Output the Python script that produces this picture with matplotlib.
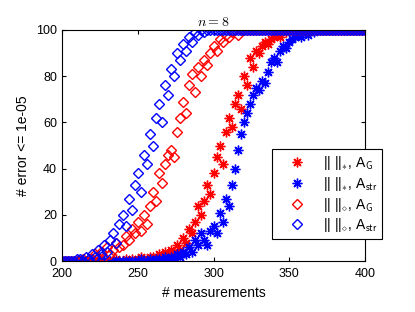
import numpy as np
import matplotlib
matplotlib.use('Agg')
import matplotlib.pyplot as plt

plt.rcParams['font.family'] = ['Liberation Sans', 'DejaVu Sans']
plt.rcParams['mathtext.fontset'] = 'cm'

# measurement counts (x), 200..400 step 2
meas = np.arange(200, 401, 2)

# % of trials with error <= 1e-05, one row per 20 measurements
star_G = [
    0, 0, 0, 0, 0, 0, 0, 0, 0, 0,
    0, 0, 0, 0, 0, 0, 0, 0, 1, 0,
    0, 1, 0, 1, 0, 1, 2, 1, 1, 2,
    2, 1, 3, 2, 4, 3, 5, 4, 7, 5,
    10, 8, 14, 12, 17, 24, 20, 26, 33, 29,
    38, 45, 50, 42, 56, 62, 58, 68, 72, 66,
    80, 76, 88, 84, 91, 90, 93, 95, 94, 96,
    97, 98, 97, 100, 99, 100, 100, 100, 100, 100,
    100, 100, 100, 100, 100, 100, 100, 100, 100, 100,
    100, 100, 100, 100, 100, 100, 100, 100, 100, 100,
    100]
star_str = [
    0, 0, 0, 0, 0, 0, 0, 0, 0, 0,
    0, 0, 0, 0, 0, 0, 0, 0, 0, 0,
    0, 0, 0, 0, 0, 0, 1, 0, 0, 1,
    0, 1, 1, 0, 2, 1, 2, 1, 3, 2,
    4, 3, 6, 4, 9, 7, 12, 9, 7, 13,
    15, 12, 21, 17, 27, 24, 33, 40, 48, 55,
    60, 64, 68, 72, 75, 74, 78, 77, 82, 86,
    88, 86, 91, 93, 92, 95, 96, 97, 98, 97,
    99, 98, 100, 99, 100, 100, 100, 100, 100, 100,
    100, 100, 100, 100, 100, 100, 100, 100, 100, 100,
    100]
diam_G = [
    0, 0, 0, 0, 0, 0, 0, 1, 0, 1,
    1, 3, 2, 4, 2, 6, 3, 5, 8, 6,
    7, 11, 9, 14, 12, 17, 13, 20, 16, 24,
    30, 26, 38, 34, 42, 46, 48, 45, 56, 62,
    69, 64, 76, 81, 73, 84, 80, 87, 85, 90,
    93, 91, 96, 95, 98, 97, 99, 100, 98, 100,
    100, 100, 100, 100, 100, 100, 100, 100, 100, 100,
    100, 100, 100, 100, 100, 100, 100, 100, 100, 100,
    100, 100, 100, 100, 100, 100, 100, 100, 100, 100,
    100, 100, 100, 100, 100, 100, 100, 100, 100, 100,
    100]
diam_str = [
    0, 0, 0, 0, 0, 1, 1, 0, 2, 1,
    3, 2, 5, 3, 7, 4, 9, 12, 8, 16,
    20, 15, 27, 22, 33, 38, 30, 46, 42, 55,
    50, 62, 68, 60, 76, 72, 83, 80, 90, 87,
    94, 91, 97, 95, 99, 98, 100, 99, 100, 100,
    100, 100, 100, 100, 100, 100, 100, 100, 100, 100,
    100, 100, 100, 100, 100, 100, 100, 100, 100, 100,
    100, 100, 100, 100, 100, 100, 100, 100, 100, 100,
    100, 100, 100, 100, 100, 100, 100, 100, 100, 100,
    100, 100, 100, 100, 100, 100, 100, 100, 100, 100,
    100]

labels = [r'|| ||$_{*}$, A$_{\mathsf{G}}$',
          r'|| ||$_{*}$, A$_{\mathsf{str}}$',
          r'|| ||$_{\diamond}$, A$_{\mathsf{G}}$',
          r'|| ||$_{\diamond}$, A$_{\mathsf{str}}$']

fig = plt.figure(figsize=(4.15, 3.12), dpi=100)
ax = fig.add_axes([0.149, 0.163, 0.731, 0.741])

star = (8, 2, 0)
ax.plot(meas, star_G, ls='none', marker=star, ms=7, mew=1, color='red', label=labels[0])
ax.plot(meas, star_str, ls='none', marker=star, ms=7, mew=1, color='blue', label=labels[1])
ax.plot(meas, diam_G, ls='none', marker='D', ms=5, mew=1, mfc='none', color='red', label=labels[2])
ax.plot(meas, diam_str, ls='none', marker='D', ms=5, mew=1, mfc='none', color='blue', label=labels[3])

ax.set_xlim(200, 400)
ax.set_ylim(0, 100)
ax.set_xticks([200, 250, 300, 350, 400])
ax.set_yticks([0, 20, 40, 60, 80, 100])
ax.tick_params(direction='in', top=True, right=True, labelsize=9, length=3)
ax.tick_params(axis='x', pad=5)
for s in ax.spines.values():
    s.set_linewidth(0.8)
ax.set_xlabel('# measurements', fontsize=10)
ax.set_ylabel('# error <= 1e-05', fontsize=10)
ax.set_title(r'$n=8$', fontsize=10, pad=3)

leg = fig.legend(loc='upper left', bbox_to_anchor=(0.655, 0.522), fontsize=10,
                 frameon=True, fancybox=False, edgecolor='black', framealpha=1,
                 borderaxespad=0, handletextpad=0.4, labelspacing=0.2,
                 borderpad=0.35, handlelength=2.9)
leg.get_frame().set_linewidth(0.8)

fig.savefig('out.png', dpi=100)
